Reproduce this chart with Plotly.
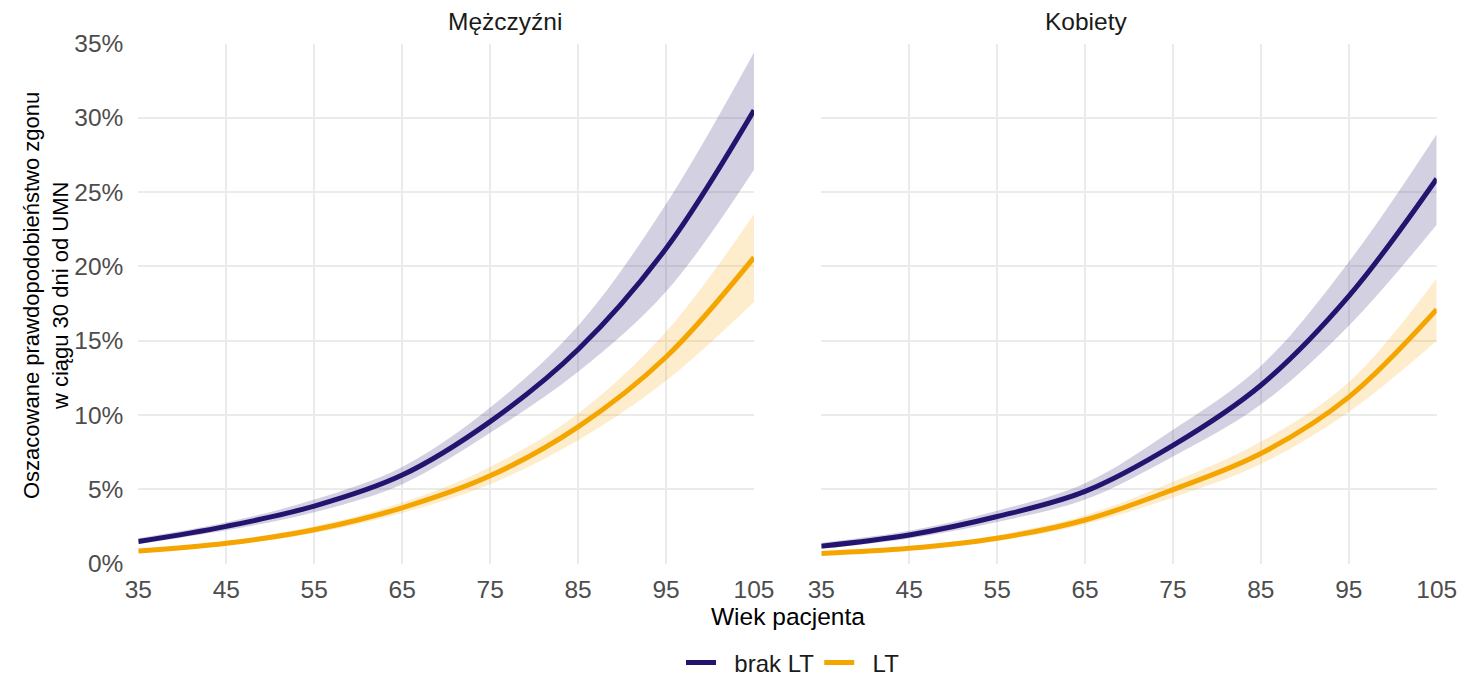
import plotly.graph_objects as go

# Age grid (years)
age = [35, 45, 55, 65, 75, 85, 95, 105]

# Estimated 30-day mortality (%) – men
men_brak = [1.48, 2.50, 3.86, 5.95, 9.55, 14.4, 21.2, 30.5]
men_brak_lo = [1.30, 2.23, 3.45, 5.34, 8.80, 12.9, 18.3, 26.5]
men_brak_hi = [1.70, 2.77, 4.30, 6.50, 10.5, 16.0, 24.2, 34.4]
men_lt = [0.84, 1.36, 2.27, 3.75, 5.90, 9.20, 13.9, 20.6]
men_lt_lo = [0.73, 1.23, 2.05, 3.40, 5.34, 8.30, 12.3, 17.6]
men_lt_hi = [0.95, 1.50, 2.50, 4.10, 6.50, 10.1, 15.6, 23.5]

# Estimated 30-day mortality (%) – women
wom_brak = [1.17, 1.92, 3.16, 4.85, 7.95, 12.0, 18.0, 25.9]
wom_brak_lo = [0.98, 1.68, 2.80, 4.30, 7.20, 10.7, 16.0, 22.8]
wom_brak_hi = [1.40, 2.20, 3.55, 5.40, 9.00, 13.3, 20.3, 28.9]
wom_lt = [0.68, 1.02, 1.70, 2.93, 4.97, 7.40, 11.2, 17.1]
wom_lt_lo = [0.60, 0.92, 1.52, 2.65, 4.45, 6.70, 10.2, 15.0]
wom_lt_hi = [0.77, 1.15, 1.90, 3.25, 5.50, 8.20, 12.2, 19.2]

x_ticks = [35, 45, 55, 65, 75, 85, 95, 105]
y_ticks = [0, 5, 10, 15, 20, 25, 30, 35]
y_ticklabels = ["0%", "5%", "10%", "15%", "20%", "25%", "30%", "35%"]

panel_titles = ["Mężczyźni", "Kobiety"]
series_names = ["brak LT", "LT"]

PURPLE = "#24136f"
ORANGE = "#f5a500"
PURPLE_FILL = "rgba(36,19,111,0.2)"
ORANGE_FILL = "rgba(245,165,0,0.2)"
FONT = "Liberation Sans, Arial, sans-serif"
FS = 24.5
KEY_GAP = "\u00a0\u00a0"  # extra room between legend key and its label

fig = go.Figure()


def add_band(xa, ya, lo, hi, fill):
    fig.add_trace(go.Scatter(x=age, y=lo, mode="lines", line=dict(width=0, shape="spline"),
                             xaxis=xa, yaxis=ya, showlegend=False, hoverinfo="skip"))
    fig.add_trace(go.Scatter(x=age, y=hi, mode="lines", line=dict(width=0, shape="spline"),
                             fill="tonexty", fillcolor=fill,
                             xaxis=xa, yaxis=ya, showlegend=False, hoverinfo="skip"))


def add_line(xa, ya, vals, color, name, legend):
    fig.add_trace(go.Scatter(x=age, y=vals, mode="lines", name=KEY_GAP + name,
                             line=dict(color=color, width=5, shape="spline"),
                             xaxis=xa, yaxis=ya, showlegend=legend, legendgroup=name))


panels = [
    ("x", "y", men_brak, men_brak_lo, men_brak_hi, men_lt, men_lt_lo, men_lt_hi, True),
    ("x2", "y2", wom_brak, wom_brak_lo, wom_brak_hi, wom_lt, wom_lt_lo, wom_lt_hi, False),
]
for xa, ya, b, blo, bhi, l, llo, lhi, leg in panels:
    add_band(xa, ya, blo, bhi, PURPLE_FILL)
    add_band(xa, ya, llo, lhi, ORANGE_FILL)
    add_line(xa, ya, b, PURPLE, series_names[0], leg)
    add_line(xa, ya, l, ORANGE, series_names[1], leg)

W, H = 1476, 678
left_dom = [138.3 / W, 754 / W]
right_dom = [821.3 / W, 1436.7 / W]
y_dom = [(H - 563.5) / H, (H - 43.5) / H]

grid = dict(showgrid=True, gridcolor="#ebebeb", gridwidth=2, zeroline=False, showline=False,
            automargin=False)
ticks_x = dict(ticks="outside", ticklen=4, tickcolor="rgba(0,0,0,0)",
               tickfont=dict(family=FONT, size=FS, color="#4d4d4d"))
ticks_y = dict(ticks="outside", ticklen=9, tickcolor="rgba(0,0,0,0)",
               tickfont=dict(family=FONT, size=FS, color="#4d4d4d"))

fig.update_layout(
    width=W, height=H,
    margin=dict(l=0, r=0, t=0, b=0, autoexpand=False),
    paper_bgcolor="white", plot_bgcolor="white",
    font=dict(family=FONT, color="#1a1a1a"),
    xaxis=dict(domain=left_dom, range=[35, 105], tickvals=x_ticks, anchor="y", **grid, **ticks_x),
    xaxis2=dict(domain=right_dom, range=[35, 105], tickvals=x_ticks, anchor="y2", **grid, **ticks_x),
    yaxis=dict(domain=y_dom, range=[0, 35], tickvals=y_ticks, ticktext=y_ticklabels,
               tickmode="array", anchor="x", **grid, **ticks_y),
    yaxis2=dict(domain=y_dom, range=[0, 35], tickvals=y_ticks, showticklabels=False,
                anchor="x2", **grid),
    legend=dict(orientation="h", x=793 / W, y=(H - 663) / H, xanchor="center", yanchor="middle",
                font=dict(family=FONT, size=24, color="#1a1a1a"), itemwidth=30,
                bgcolor="rgba(0,0,0,0)"),
)

# facet titles
for title, dom in zip(panel_titles, [left_dom, right_dom]):
    fig.add_annotation(text=title, x=sum(dom) / 2, y=(H - 21) / H, xref="paper", yref="paper",
                       showarrow=False, font=dict(family=FONT, size=FS, color="#1a1a1a"),
                       yanchor="middle")

# axis titles
fig.add_annotation(text="Wiek pacjenta", x=788 / W, y=(H - 616) / H, xref="paper", yref="paper",
                   showarrow=False, font=dict(family=FONT, size=24.5, color="#000000"),
                   yanchor="middle")
fig.add_annotation(text="Oszacowane prawdopodobieństwo zgonu<br>w ciągu 30 dni od UMN",
                   x=46 / W, y=(H - 296) / H, xref="paper", yref="paper", textangle=-90,
                   showarrow=False, font=dict(family=FONT, size=22, color="#000000"),
                   xanchor="center", yanchor="middle")

fig.write_html("out.html")
